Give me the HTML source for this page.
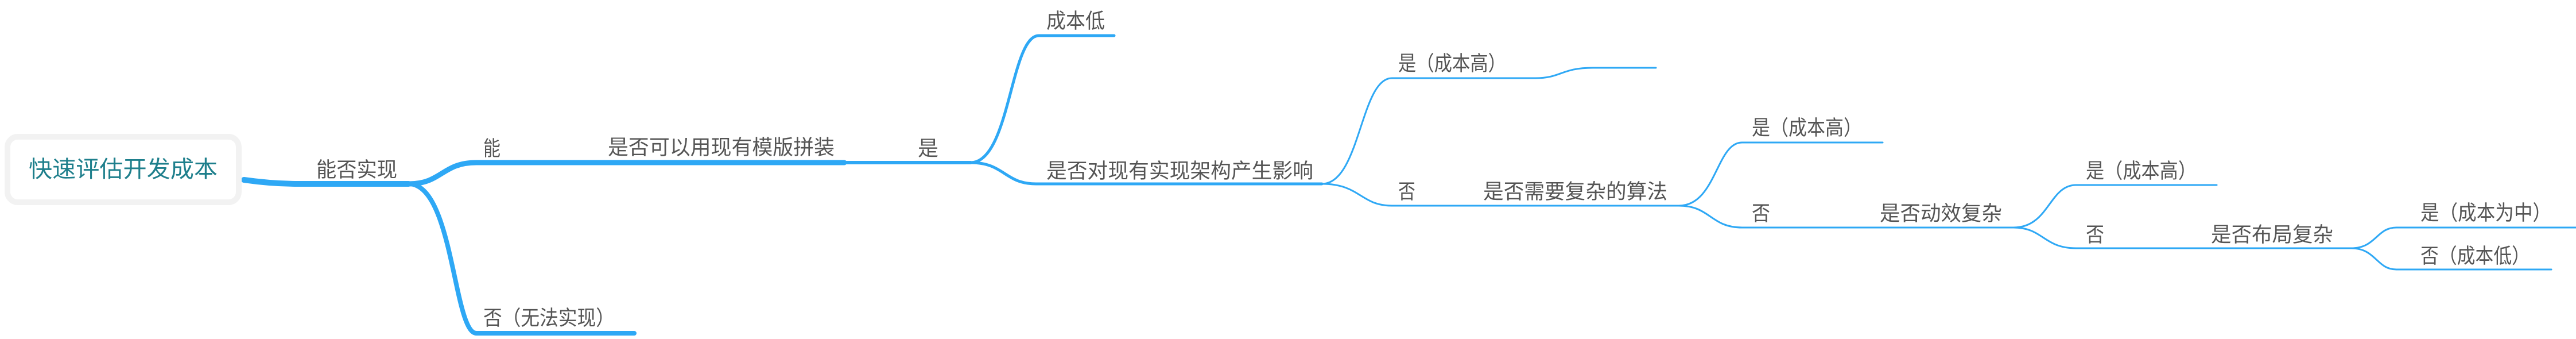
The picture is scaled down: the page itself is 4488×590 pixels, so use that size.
<!DOCTYPE html>
<html><head><meta charset="utf-8"><style>
html,body{margin:0;padding:0;background:#fff;}
svg{display:block;}
text{font-family:"Liberation Sans","Noto Sans CJK SC",sans-serif;fill:#555;font-size:36px;dominant-baseline:central;}
</style></head><body>
<svg width="4488" height="590" viewBox="0 0 4488 590" xmlns="http://www.w3.org/2000/svg">
<g fill="none" stroke="#2ea8f5" stroke-linecap="round">
<path d="M425 313 C460 318 490 320 520 320 L712 320" stroke-width="10"/>
<path d="M712 320 C770 320 770 283 830 283 L1471 283" stroke-width="9"/>
<path d="M1471 283 L1691 283" stroke-width="6"/>
<path d="M712 320 C790 320 790 580 830 580 L1105 580" stroke-width="8"/>
<path d="M1691 283 C1760 283 1760 62 1810 62 L1941 62" stroke-width="5"/>
<path d="M1691 283 C1750 283 1750 320 1805 320 L2303 320" stroke-width="5"/>
<path d="M2303 320 C2370 320 2370 136 2425 136 L2675 136 C2720 136 2720 118 2775 118 L2885 118" stroke-width="3"/>
<path d="M2303 320 C2370 320 2370 358 2425 358 L2925 358" stroke-width="3"/>
<path d="M2925 358 C2990 358 2990 248 3035 248 L3280 248" stroke-width="3"/>
<path d="M2925 358 C2980 358 2980 396 3035 396 L3508 396" stroke-width="3"/>
<path d="M3508 396 C3570 396 3570 322 3617 322 L3862 322" stroke-width="3"/>
<path d="M3508 396 C3560 396 3560 432 3617 432 L4096 432" stroke-width="3"/>
<path d="M4096 432 C4140 432 4140 396 4175 396 L4488 396" stroke-width="3"/>
<path d="M4096 432 C4140 432 4140 469 4175 469 L4445 469" stroke-width="3"/>
</g>
<rect x="13" y="238" width="403" height="114" rx="18" fill="#fff" stroke="#f2f2f2" stroke-width="10"/>
<text x="50" y="295" textLength="329" lengthAdjust="spacingAndGlyphs" style="fill:#1e7f8c;font-size:40px">快速评估开发成本</text>
<text x="551" y="295" textLength="141" lengthAdjust="spacingAndGlyphs">能否实现</text>
<text x="842" y="258" textLength="30" lengthAdjust="spacingAndGlyphs">能</text>
<text x="1059" y="256" textLength="395" lengthAdjust="spacingAndGlyphs">是否可以用现有模版拼装</text>
<text x="842" y="553" textLength="229" lengthAdjust="spacingAndGlyphs">否（无法实现）</text>
<text x="1599" y="258" textLength="36" lengthAdjust="spacingAndGlyphs">是</text>
<text x="1823" y="36" textLength="102" lengthAdjust="spacingAndGlyphs">成本低</text>
<text x="1823" y="297" textLength="465" lengthAdjust="spacingAndGlyphs">是否对现有实现架构产生影响</text>
<text x="2436" y="110" textLength="188" lengthAdjust="spacingAndGlyphs">是（成本高）</text>
<text x="2436" y="333" textLength="30" lengthAdjust="spacingAndGlyphs">否</text>
<text x="2584" y="333" textLength="321" lengthAdjust="spacingAndGlyphs">是否需要复杂的算法</text>
<text x="3052" y="222" textLength="192" lengthAdjust="spacingAndGlyphs">是（成本高）</text>
<text x="3052" y="371" textLength="32" lengthAdjust="spacingAndGlyphs">否</text>
<text x="3275" y="371" textLength="213" lengthAdjust="spacingAndGlyphs">是否动效复杂</text>
<text x="3634" y="297" textLength="193" lengthAdjust="spacingAndGlyphs">是（成本高）</text>
<text x="3634" y="408" textLength="32" lengthAdjust="spacingAndGlyphs">否</text>
<text x="3852" y="408" textLength="213" lengthAdjust="spacingAndGlyphs">是否布局复杂</text>
<text x="4217" y="370" textLength="228" lengthAdjust="spacingAndGlyphs">是（成本为中）</text>
<text x="4217" y="445" textLength="191" lengthAdjust="spacingAndGlyphs">否（成本低）</text>
</svg>
</body></html>
